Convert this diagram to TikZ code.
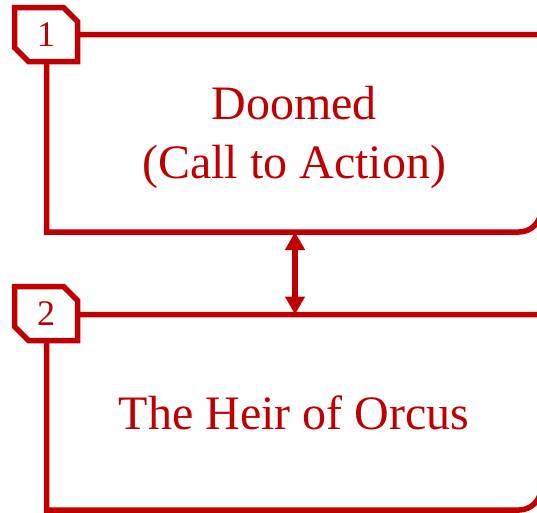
\documentclass[tikz,border=0pt]{standalone}
\usepackage{fontspec}
\setmainfont{Liberation Serif}
\usepackage{xcolor}
\definecolor{DarkRed}{HTML}{C00000}
\usetikzlibrary{shapes.misc,arrows.meta}

\tikzset{
    frame/.style={draw=DarkRed, line width=5.5pt, rounded corners=0pt},
    tabbox/.style={chamfered rectangle, chamfered rectangle corners={north east,south west},
        chamfered rectangle xsep=11pt, draw=DarkRed, line width=5.5pt, fill=white,
        minimum width=63pt, minimum height=54pt, inner sep=0pt,
        text=DarkRed, font=\fontsize{36}{40}\selectfont},
    title/.style={text=DarkRed, align=center, font=\fontsize{48}{59}\selectfont}
}

\begin{document}
\begin{tikzpicture}[x=1pt,y=-1pt]
            \useasboundingbox (0,0) rectangle (537,512);
            % boxes
            \draw[frame] (46.5,34.5) -- (541,34.5) -- (541,210) [rounded corners=22pt] -- (541,232) [rounded corners=0pt] -- (46.5,232) -- cycle;
            \draw[frame] (46.5,314.5) -- (541,314.5) -- (541,488) [rounded corners=22pt] -- (541,510) [rounded corners=0pt] -- (46.5,510) -- cycle;
            \coordinate (b1) at (295,232);
            \coordinate (b2) at (295,314.5);
            % number tabs
            \node[tabbox] (tab1) at (46,34.5) {1};
            \node[tabbox] (tab2) at (46,313.5) {2};
            % titles
            \node[title] (doomed) at (294,137) {Doomed\\(Call to Action)};
            \node[title] (heir) at (294,413) {The Heir of Orcus};
            \draw[DarkRed, line width=5.5pt, {Triangle[width=19pt,length=18pt]}-{Triangle[width=19pt,length=18pt]}] (b1) to (b2);
        \end{tikzpicture}
\end{document}
